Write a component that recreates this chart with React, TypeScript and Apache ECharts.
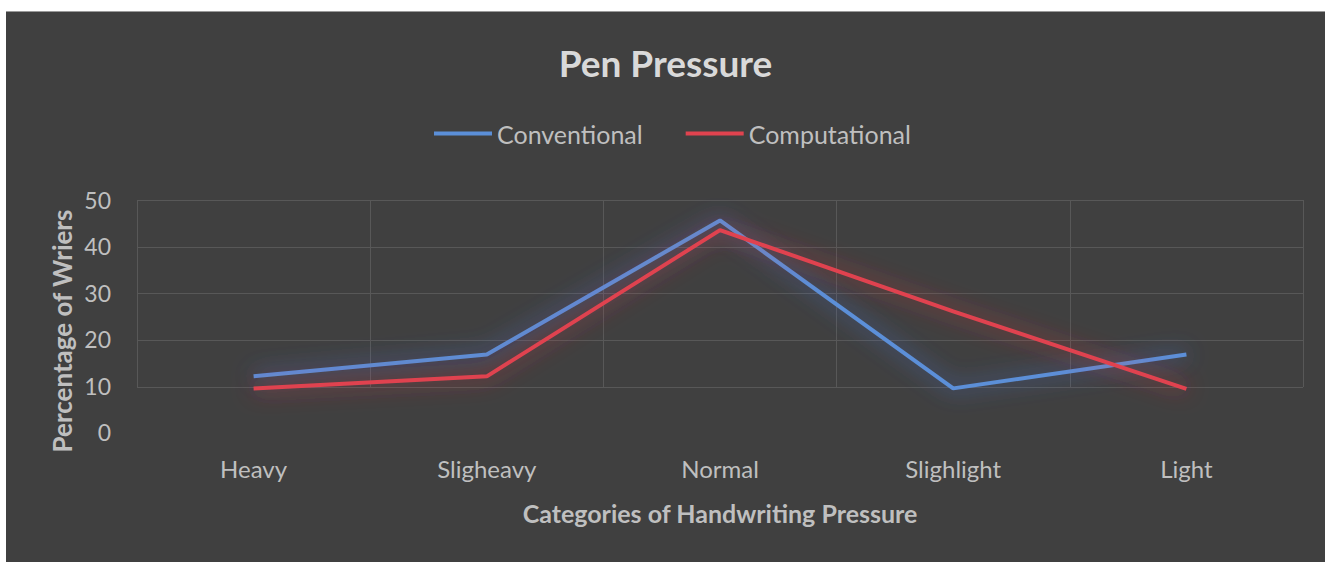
import React, { useEffect, useRef } from "react";
import * as echarts from "echarts";

const categories = ["Heavy", "Sligheavy", "Normal", "Slighlight", "Light"];
const conventional = [12, 16.7, 45.6, 9.4, 16.7];
const computational = [9.4, 12, 43.5, 26, 9.3];
const seriesNames = ["Conventional", "Computational"];

const FONT = "Lato, 'Open Sans', sans-serif";

export default function App() {
  const ref = useRef<HTMLDivElement>(null);
  useEffect(() => {
    document.body.style.margin = "0";
    const chart = echarts.init(ref.current!, undefined, { renderer: "svg" });
    const option: any = {
      animation: false,
      backgroundColor: "#404040",
      title: {
        text: "Pen Pressure",
        left: "center",
        top: 27,
        textStyle: { color: "#d9d9d9", fontSize: 37, fontWeight: "bold", fontFamily: FONT },
      },
      legend: {
        left: 423,
        top: 104,
        itemWidth: 58,
        itemHeight: 4,
        itemGap: 43,
        icon: "rect",
        data: seriesNames,
        textStyle: { color: "#bfbfbf", fontSize: 25, fontFamily: FONT },
      },
      graphic: [
        {
          type: "text",
          x: 56,
          y: 319,
          rotation: Math.PI / 2,
          style: {
            text: "Percentage of Wriers",
            fill: "#bfbfbf",
            fontSize: 26,
            fontWeight: "bold",
            fontFamily: FONT,
            align: "center",
            verticalAlign: "middle",
          },
        },
      ],
      grid: [
        { left: 131, right: 22, top: 188, bottom: 130 },
        { left: 131, right: 22, top: 188, bottom: 175 },
      ],
      xAxis: [
        {
          type: "category",
          gridIndex: 0,
          data: categories,
          boundaryGap: true,
          axisLine: { show: false },
          axisTick: { show: false },
          splitLine: { show: false },
          axisLabel: { color: "#bfbfbf", fontSize: 24, margin: 24, fontFamily: FONT },
          name: "Categories of Handwriting Pressure",
          nameLocation: "middle",
          nameGap: 68,
          nameTextStyle: { color: "#bfbfbf", fontSize: 25, fontWeight: "bold", fontFamily: FONT },
        },
        {
          type: "category",
          gridIndex: 1,
          data: categories,
          boundaryGap: true,
          axisLine: { show: false },
          axisTick: { show: false },
          axisLabel: { show: false },
          splitLine: { show: true, lineStyle: { color: "#585858", width: 1 } },
        },
      ],
      yAxis: [
        {
          type: "value",
          gridIndex: 0,
          min: 0,
          max: 50,
          interval: 10,
          axisLine: { show: false },
          axisTick: { show: false },
          splitLine: { show: false },
          axisLabel: { color: "#bfbfbf", fontSize: 23, margin: 26, fontFamily: FONT },
        },
        {
          type: "value",
          gridIndex: 1,
          min: 10,
          max: 50,
          interval: 10,
          axisLine: { show: false },
          axisTick: { show: false },
          axisLabel: { show: false },
          splitLine: { show: true, lineStyle: { color: "#585858", width: 1 } },
        },
      ],
      series: [
        {
          name: seriesNames[0],
          type: "line",
          xAxisIndex: 0,
          yAxisIndex: 0,
          data: conventional,
          symbol: "none",
          color: "#5b8fd8",
          lineStyle: {
            width: 4,
            color: "#5b8fd8",
            shadowColor: "rgba(70,120,230,0.85)",
            shadowBlur: 22,
          },
        },
        {
          name: seriesNames[1],
          type: "line",
          xAxisIndex: 0,
          yAxisIndex: 0,
          data: computational,
          symbol: "none",
          color: "#e0434f",
          lineStyle: {
            width: 4,
            color: "#e0434f",
            shadowColor: "rgba(230,50,60,0.85)",
            shadowBlur: 22,
          },
        },
      ],
    };
    chart.setOption(option);
    return () => chart.dispose();
  }, []);
  return (
    <div style={{ position: "relative", width: 1325, height: 562, background: "#ffffff" }}>
      <div
        style={{
          position: "absolute",
          left: 6,
          top: 11,
          width: 1319,
          height: 551,
          borderTop: "1px solid #9a9a9a",
          boxSizing: "border-box",
        }}
      >
        <div ref={ref} style={{ width: 1319, height: 550 }} />
      </div>
    </div>
  );
}
